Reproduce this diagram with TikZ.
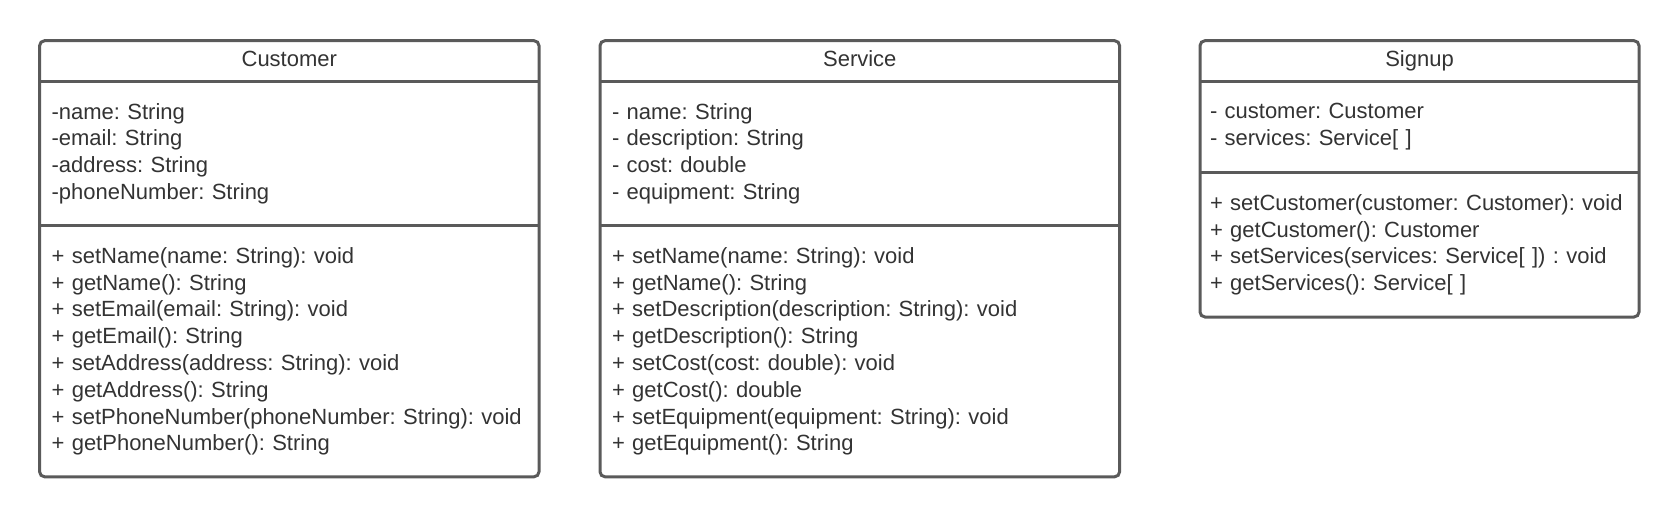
\documentclass[tikz,border=0pt]{standalone}
\usepackage{fontspec}
\setmainfont{Liberation Sans}
\usepackage{xcolor}
\definecolor{umlline}{HTML}{5A5A5A}
\definecolor{umltext}{HTML}{333333}
\usetikzlibrary{positioning}
\frenchspacing

\begin{document}
\begin{tikzpicture}[
  classname/.style={anchor=north west, inner sep=0pt, outer sep=0pt, minimum height=20.35pt, text height=8pt, text depth=2.3pt, text=umltext, font=\fontsize{11}{13.4}\selectfont},
  members/.style={inner xsep=6pt, inner ysep=0pt, outer sep=0pt, align=left, text=umltext, font=\fontsize{11}{13.4}\selectfont\frenchspacing},
  umlframe/.style={umlline, line width=1.5pt, rounded corners=2.5pt},
  umlsep/.style={umlline, line width=1.5pt}]
\useasboundingbox (0,0) rectangle (840pt,-259pt);

% Customer
\node (customer) at (19.8pt,-20.35pt) [classname, minimum width=249.7pt] {Customer};
\node (customerattr) [below=0pt of customer, members, text width=237.7pt, minimum height=72.3pt] {-name: String\\-email: String\\-address: String\\-phoneNumber: String};
\node (customerops) [below=0pt of customerattr, members, text width=237.7pt, minimum height=125.4pt] {+ setName(name: String): void\\+ getName(): String\\+ setEmail(email: String): void\\+ getEmail(): String\\+ setAddress(address: String): void\\+ getAddress(): String\\+ setPhoneNumber(phoneNumber: String): void\\+ getPhoneNumber(): String};
\draw[umlframe] (customer.north west) rectangle (customerops.south east);
\draw[umlsep] (customer.south west) -- (customer.south east);
\draw[umlsep] (customerattr.south west) -- (customerattr.south east);

% Service
\node (service) at (300pt,-20.35pt) [classname, minimum width=259.8pt] {Service};
\node (serviceattr) [below=0pt of service, members, text width=247.8pt, minimum height=72.3pt] {- name: String\\- description: String\\- cost: double\\- equipment: String};
\node (serviceops) [below=0pt of serviceattr, members, text width=247.8pt, minimum height=125.4pt] {+ setName(name: String): void\\+ getName(): String\\+ setDescription(description: String): void\\+ getDescription(): String\\+ setCost(cost: double): void\\+ getCost(): double\\+ setEquipment(equipment: String): void\\+ getEquipment(): String};
\draw[umlframe] (service.north west) rectangle (serviceops.south east);
\draw[umlsep] (service.south west) -- (service.south east);
\draw[umlsep] (serviceattr.south west) -- (serviceattr.south east);

% Signup
\node (signup) at (600pt,-20.35pt) [classname, minimum width=219.5pt] {Signup};
\node (signupattr) [below=0pt of signup, members, inner xsep=5pt, text width=209.5pt, minimum height=45.55pt] {- customer: Customer\\- services: Service[ ]};
\node (signupops) [below=0pt of signupattr, members, inner xsep=5pt, text width=209.5pt, minimum height=72.25pt] {+ setCustomer(customer: Customer): void\\+ getCustomer(): Customer\\+ setServices(services: Service[ ]) : void\\+ getServices(): Service[ ]};
\draw[umlframe] (signup.north west) rectangle (signupops.south east);
\draw[umlsep] (signup.south west) -- (signup.south east);
\draw[umlsep] (signupattr.south west) -- (signupattr.south east);
\end{tikzpicture}
\end{document}
